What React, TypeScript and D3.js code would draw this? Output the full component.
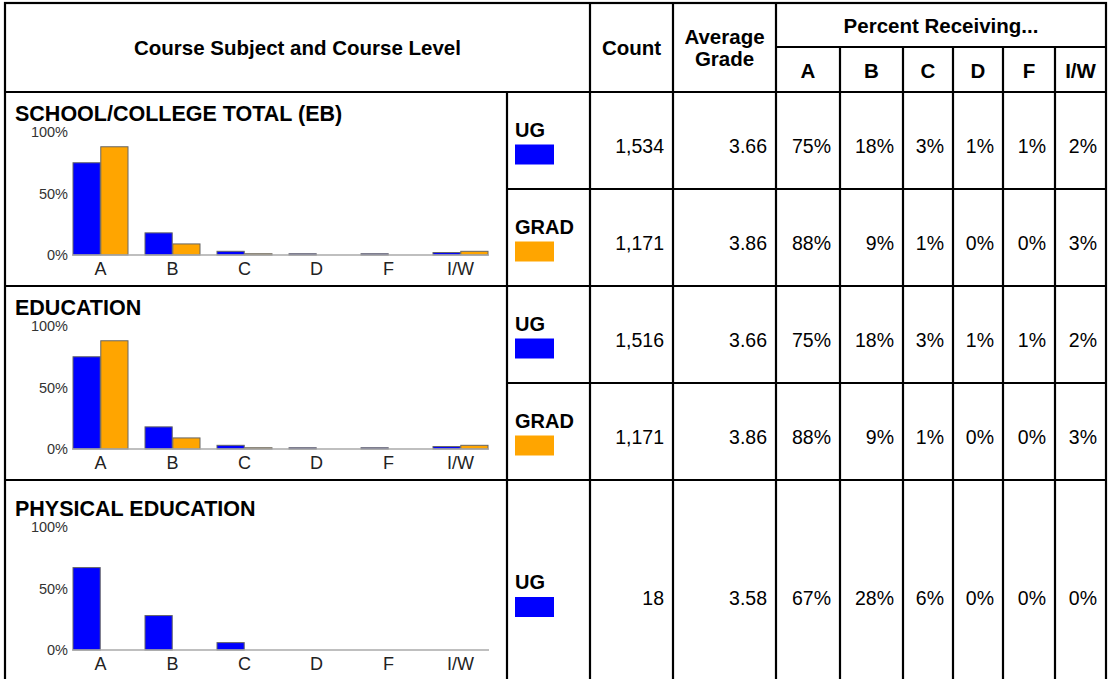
import React from "react";
import * as d3 from "d3";

// grade categories shown on the x axis and in the table
const grades = ["A", "B", "C", "D", "F", "I/W"];
const subjects = ["SCHOOL/COLLEGE TOTAL (EB)", "EDUCATION", "PHYSICAL EDUCATION"];

// one entry per table row
const rowSubject = [0, 0, 1, 1, 2];
const rowLevel = ["UG", "GRAD", "UG", "GRAD", "UG"];
const rowCount = [1534, 1171, 1516, 1171, 18];
const rowAvg = [3.66, 3.86, 3.66, 3.86, 3.58];
const rowPct = [
  [75, 18, 3, 1, 1, 2],
  [88, 9, 1, 0, 0, 3],
  [75, 18, 3, 1, 1, 2],
  [88, 9, 1, 0, 0, 3],
  [67, 28, 6, 0, 0, 0],
];
const yTicks = [0, 50, 100];

const levels = ["UG", "GRAD"];
const color = d3.scaleOrdinal<string, string>().domain(levels).range(["#0000ff", "#ffa500"]);

const W = 1108;
const H = 679;
const font = "Arial, 'Liberation Sans', Helvetica, sans-serif";
const colX = [5, 507, 590, 673, 776, 840, 903, 953, 1003, 1055, 1106];
const rowY = [92, 189, 286, 383, 480, 706];
const headTop = 3;
const headMid = 47;
const sectionTop = [92, 286, 480];
const sectionShift = [0, 0, 7];

const fmtCount = d3.format(",");
const fmtAvg = d3.format(".2f");

function SectionChart({ s }: { s: number }) {
  const top = sectionTop[s] + sectionShift[s];
  const axisY = top + 163;
  const rows = rowSubject.map((v, i) => (v === s ? i : -1)).filter((i) => i >= 0);

  const x0 = d3
    .scaleBand()
    .domain(grades)
    .range([73, 505])
    .paddingInner(17 / 72)
    .paddingOuter(17 / 144)
    .align(0);
  const x1 = d3.scaleBand().domain(levels).range([0, x0.bandwidth()]).paddingInner(0.02);
  const y = d3.scaleLinear().domain([0, 100]).range([axisY, axisY - 123]);

  return (
    <g>
      <text x={15} y={top + 29} fontSize={21.5} fontWeight="bold" fontFamily={font}>
        {subjects[s]}
      </text>
      {yTicks.map((t) => (
        <text
          key={t}
          x={68}
          y={y(t)}
          fontSize={14.5}
          fill="#333"
          textAnchor="end"
          dominantBaseline="central"
          fontFamily={font}
        >
          {t + "%"}
        </text>
      ))}
      {rows.map((r) =>
        grades.map((g, gi) =>
          rowPct[r][gi] > 0 ? (
            <rect
              key={r + g}
              x={x0(g)! + x1(rowLevel[r])!}
              y={y(rowPct[r][gi])}
              width={x1.bandwidth()}
              height={axisY - y(rowPct[r][gi])}
              fill={color(rowLevel[r])}
              stroke="#666"
              strokeWidth={1}
            />
          ) : null
        )
      )}
      <line x1={72} x2={489} y1={axisY} y2={axisY} stroke="#aaa" strokeWidth={1.5} />
      {grades.map((g) => (
        <text
          key={g}
          x={x0(g)! + x0.bandwidth() / 2}
          y={axisY + 20}
          fontSize={18}
          fill="#222"
          textAnchor="middle"
          fontFamily={font}
        >
          {g}
        </text>
      ))}
    </g>
  );
}

export default function App() {
  const pctCols = grades.map((_, i) => [colX[4 + i], colX[5 + i]]);
  return (
    <svg width={W} height={H} style={{ position: "absolute", left: 0, top: 0, background: "#fff" }}>
      <rect x={0} y={0} width={W} height={H} fill="#fff" />

      {/* header texts */}
      <g fontFamily={font} fontWeight="bold" fontSize={20.5} textAnchor="middle">
        <text x={(colX[0] + colX[2]) / 2} y={(headTop + rowY[0]) / 2} dominantBaseline="central">
          Course Subject and Course Level
        </text>
        <text x={(colX[2] + colX[3]) / 2} y={(headTop + rowY[0]) / 2} dominantBaseline="central">
          Count
        </text>
        <text x={(colX[3] + colX[4]) / 2} y={(headTop + rowY[0]) / 2 - 11} dominantBaseline="central">
          Average
        </text>
        <text x={(colX[3] + colX[4]) / 2} y={(headTop + rowY[0]) / 2 + 11} dominantBaseline="central">
          Grade
        </text>
        <text x={(colX[4] + colX[10]) / 2} y={(headTop + headMid) / 2} dominantBaseline="central">
          Percent Receiving...
        </text>
        {grades.map((g, i) => (
          <text key={g} x={(pctCols[i][0] + pctCols[i][1]) / 2} y={(headMid + rowY[0]) / 2 + 1} dominantBaseline="central">
            {g}
          </text>
        ))}
      </g>

      {/* charts */}
      {subjects.map((_, s) => (
        <SectionChart key={s} s={s} />
      ))}

      {/* table rows */}
      {rowLevel.map((lv, r) => {
        const cy = (rowY[r] + rowY[r + 1]) / 2;
        return (
          <g key={r} fontFamily={font}>
            <text x={515} y={cy - 4} fontSize={20} fontWeight="bold">
              {lv}
            </text>
            <rect x={515} y={cy + 4} width={39} height={20} fill={color(lv)} />
            <text x={colX[3] - 9} y={cy + 5} fontSize={19.5} textAnchor="end" dominantBaseline="central">
              {fmtCount(rowCount[r])}
            </text>
            <text x={colX[4] - 9} y={cy + 5} fontSize={19.5} textAnchor="end" dominantBaseline="central">
              {fmtAvg(rowAvg[r])}
            </text>
            {rowPct[r].map((p, i) => (
              <text key={i} x={pctCols[i][1] - 9} y={cy + 5} fontSize={19.5} textAnchor="end" dominantBaseline="central">
                {p + "%"}
              </text>
            ))}
          </g>
        );
      })}

      {/* grid lines */}
      <g stroke="#000" strokeWidth={2.2} fill="none">
        <rect x={colX[0]} y={headTop} width={colX[10] - colX[0]} height={H + 40} />
        <line x1={colX[4]} x2={colX[10]} y1={headMid} y2={headMid} />
        {[0, 2, 4].map((i) => (
          <line key={"h" + i} x1={colX[0]} x2={colX[10]} y1={rowY[i]} y2={rowY[i]} />
        ))}
        {[1, 3].map((i) => (
          <line key={"hs" + i} x1={colX[1]} x2={colX[10]} y1={rowY[i]} y2={rowY[i]} />
        ))}
        <line x1={colX[1]} x2={colX[1]} y1={rowY[0]} y2={H + 40} />
        {[2, 3, 4].map((i) => (
          <line key={"v" + i} x1={colX[i]} x2={colX[i]} y1={headTop} y2={H + 40} />
        ))}
        {[5, 6, 7, 8, 9].map((i) => (
          <line key={"vs" + i} x1={colX[i]} x2={colX[i]} y1={headMid} y2={H + 40} />
        ))}
      </g>
    </svg>
  );
}
